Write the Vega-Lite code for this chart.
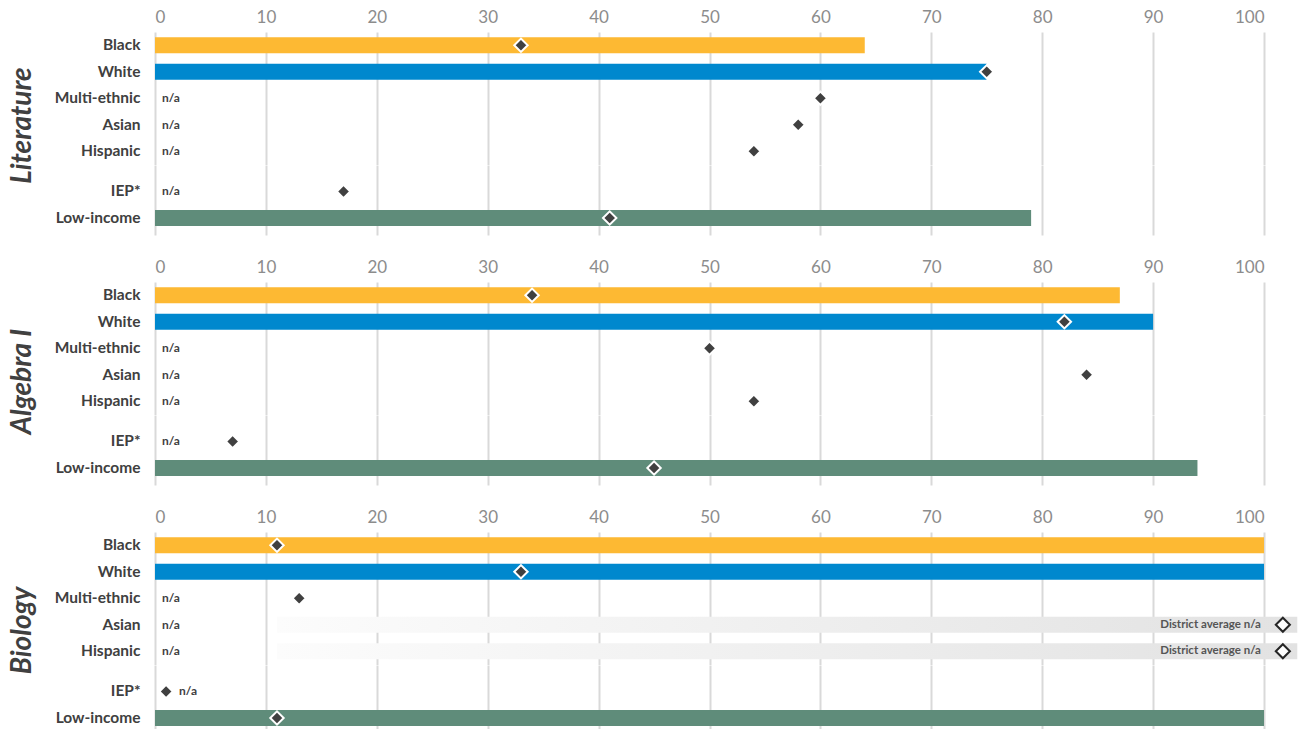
{
  "$schema": "https://vega.github.io/schema/vega-lite/v6.json",
  "background": "#ffffff",
  "padding": {"left": 8, "top": 8, "right": 0, "bottom": 0},
  "datasets": {
    "scores": [
      {"subject": "Literature", "section": "race", "group": "Black", "rate": 64, "district": 33},
      {"subject": "Literature", "section": "race", "group": "White", "rate": 75, "district": 75},
      {"subject": "Literature", "section": "race", "group": "Multi-ethnic", "rate": null, "district": 60},
      {"subject": "Literature", "section": "race", "group": "Asian", "rate": null, "district": 58},
      {"subject": "Literature", "section": "race", "group": "Hispanic", "rate": null, "district": 54},
      {"subject": "Literature", "section": "program", "group": "IEP*", "rate": null, "district": 17},
      {"subject": "Literature", "section": "program", "group": "Low-income", "rate": 79, "district": 41},
      {"subject": "Algebra I", "section": "race", "group": "Black", "rate": 87, "district": 34},
      {"subject": "Algebra I", "section": "race", "group": "White", "rate": 90, "district": 82},
      {"subject": "Algebra I", "section": "race", "group": "Multi-ethnic", "rate": null, "district": 50},
      {"subject": "Algebra I", "section": "race", "group": "Asian", "rate": null, "district": 84},
      {"subject": "Algebra I", "section": "race", "group": "Hispanic", "rate": null, "district": 54},
      {"subject": "Algebra I", "section": "program", "group": "IEP*", "rate": null, "district": 7},
      {"subject": "Algebra I", "section": "program", "group": "Low-income", "rate": 94, "district": 45},
      {"subject": "Biology", "section": "race", "group": "Black", "rate": 100, "district": 11},
      {"subject": "Biology", "section": "race", "group": "White", "rate": 100, "district": 33},
      {"subject": "Biology", "section": "race", "group": "Multi-ethnic", "rate": null, "district": 13},
      {"subject": "Biology", "section": "race", "group": "Asian", "rate": null, "district": null, "district_na": true},
      {"subject": "Biology", "section": "race", "group": "Hispanic", "rate": null, "district": null, "district_na": true},
      {"subject": "Biology", "section": "program", "group": "IEP*", "rate": null, "district": 1},
      {"subject": "Biology", "section": "program", "group": "Low-income", "rate": 100, "district": 11}
    ]
  },
  "config": {
    "font": "Lato",
    "view": {"stroke": null},
    "axis": {"domain": false, "ticks": false, "gridColor": "#d9d9d9", "gridWidth": 2},
    "axisX": {"grid": true, "labelColor": "#8c8c8c", "labelFontSize": 17, "labelPadding": 6, "labelFontWeight": "normal"},
    "axisY": {"grid": false, "labelColor": "#404040", "labelFontSize": 15.5, "labelFontWeight": "bold", "labelPadding": 15, "titleColor": "#404040", "titleFontSize": 28, "titleFontStyle": "italic", "titleFontWeight": "bold", "titlePadding": 18}
  },
  "spacing": 23,
  "vconcat": [
    {
      "spacing": 0,
      "bounds": "flush",
      "vconcat": [
        {
          "width": 1109, "height": 132.5,
          "data": {"name": "scores"},
          "transform": [{"filter": "datum.subject === 'Literature' && datum.section === 'race'"}],
          "encoding": {"y": {"field": "group", "type": "nominal", "sort": ["Black", "White", "Multi-ethnic", "Asian", "Hispanic"], "scale": {"paddingInner": 0.4, "paddingOuter": 0.2}, "axis": {"title": "Literature", "titleY": 93}}},
          "layer": [
            {"mark": {"type": "bar"}, "encoding": {"x": {"field": "rate", "type": "quantitative", "scale": {"domain": [0, 100], "nice": false}, "axis": {"orient": "top", "title": null, "values": [0, 10, 20, 30, 40, 50, 60, 70, 80, 90, 100]}}, "color": {"field": "group", "type": "nominal", "scale": {"domain": ["Black", "White", "Low-income"], "range": ["#FDB933", "#0088CE", "#5F8C7A"]}, "legend": null}}},
            {"transform": [{"filter": "datum.district_na === true"}], "mark": {"type": "bar", "color": {"gradient": "linear", "x1": 0, "x2": 1, "y1": 0, "y2": 0, "stops": [{"offset": 0, "color": "#fcfcfc"}, {"offset": 1, "color": "#e2e2e2"}]}}, "encoding": {"x": {"datum": 11, "type": "quantitative"}, "x2": {"datum": 103}}},
            {"transform": [{"filter": "datum.rate == null && (datum.district == null || datum.district > 5)"}], "mark": {"type": "text", "text": "n/a", "align": "left", "dx": 7, "fontSize": 12, "fontWeight": "bold", "color": "#404040"}, "encoding": {"x": {"datum": 0, "type": "quantitative"}}},
            {"transform": [{"filter": "datum.rate == null && datum.district != null && datum.district <= 5"}], "mark": {"type": "text", "text": "n/a", "align": "left", "dx": 13, "fontSize": 12, "fontWeight": "bold", "color": "#404040"}, "encoding": {"x": {"field": "district", "type": "quantitative"}}},
            {"mark": {"type": "point", "shape": "diamond", "filled": true, "fill": "#404040", "stroke": "#ffffff", "strokeWidth": 2, "size": 180, "opacity": 1}, "encoding": {"x": {"field": "district", "type": "quantitative"}}},
            {"transform": [{"filter": "datum.district_na === true"}], "mark": {"type": "point", "shape": "diamond", "filled": true, "fill": "#ffffff", "stroke": "#262626", "strokeWidth": 2, "size": 200, "opacity": 1}, "encoding": {"x": {"datum": 101.7, "type": "quantitative"}}},
            {"transform": [{"filter": "datum.district_na === true"}], "mark": {"type": "text", "text": "District average n/a", "align": "right", "dx": -22, "fontSize": 11.5, "fontWeight": "bold", "color": "#555555"}, "encoding": {"x": {"datum": 101.7, "type": "quantitative"}}}
          ]
        },
        {
          "width": 1109, "height": 70,
          "data": {"name": "scores"},
          "transform": [{"filter": "datum.subject === 'Literature' && datum.section === 'program'"}],
          "encoding": {"y": {"field": "group", "type": "nominal", "sort": ["IEP*", "Low-income"], "scale": {"paddingInner": 0.4, "paddingOuter": 0.52, "align": 0.672}, "axis": {"title": null}}},
          "layer": [
            {"mark": {"type": "bar"}, "encoding": {"x": {"field": "rate", "type": "quantitative", "scale": {"domain": [0, 100], "nice": false}, "axis": {"orient": "top", "title": null, "labels": false, "labelPadding": 0, "minExtent": 0, "maxExtent": 0, "offset": 0, "values": [0, 10, 20, 30, 40, 50, 60, 70, 80, 90, 100]}}, "color": {"field": "group", "type": "nominal", "scale": {"domain": ["Black", "White", "Low-income"], "range": ["#FDB933", "#0088CE", "#5F8C7A"]}, "legend": null}}},
            {"transform": [{"filter": "datum.rate == null && (datum.district == null || datum.district > 5)"}], "mark": {"type": "text", "text": "n/a", "align": "left", "dx": 7, "fontSize": 12, "fontWeight": "bold", "color": "#404040"}, "encoding": {"x": {"datum": 0, "type": "quantitative"}}},
            {"transform": [{"filter": "datum.rate == null && datum.district != null && datum.district <= 5"}], "mark": {"type": "text", "text": "n/a", "align": "left", "dx": 13, "fontSize": 12, "fontWeight": "bold", "color": "#404040"}, "encoding": {"x": {"field": "district", "type": "quantitative"}}},
            {"mark": {"type": "point", "shape": "diamond", "filled": true, "fill": "#404040", "stroke": "#ffffff", "strokeWidth": 2, "size": 180, "opacity": 1}, "encoding": {"x": {"field": "district", "type": "quantitative"}}}
          ]
        }
      ]
    },
    {
      "spacing": 0,
      "bounds": "flush",
      "vconcat": [
        {
          "width": 1109, "height": 132.5,
          "data": {"name": "scores"},
          "transform": [{"filter": "datum.subject === 'Algebra I' && datum.section === 'race'"}],
          "encoding": {"y": {"field": "group", "type": "nominal", "sort": ["Black", "White", "Multi-ethnic", "Asian", "Hispanic"], "scale": {"paddingInner": 0.4, "paddingOuter": 0.2}, "axis": {"title": "Algebra I", "titleY": 99}}},
          "layer": [
            {"mark": {"type": "bar"}, "encoding": {"x": {"field": "rate", "type": "quantitative", "scale": {"domain": [0, 100], "nice": false}, "axis": {"orient": "top", "title": null, "values": [0, 10, 20, 30, 40, 50, 60, 70, 80, 90, 100]}}, "color": {"field": "group", "type": "nominal", "scale": {"domain": ["Black", "White", "Low-income"], "range": ["#FDB933", "#0088CE", "#5F8C7A"]}, "legend": null}}},
            {"transform": [{"filter": "datum.district_na === true"}], "mark": {"type": "bar", "color": {"gradient": "linear", "x1": 0, "x2": 1, "y1": 0, "y2": 0, "stops": [{"offset": 0, "color": "#fcfcfc"}, {"offset": 1, "color": "#e2e2e2"}]}}, "encoding": {"x": {"datum": 11, "type": "quantitative"}, "x2": {"datum": 103}}},
            {"transform": [{"filter": "datum.rate == null && (datum.district == null || datum.district > 5)"}], "mark": {"type": "text", "text": "n/a", "align": "left", "dx": 7, "fontSize": 12, "fontWeight": "bold", "color": "#404040"}, "encoding": {"x": {"datum": 0, "type": "quantitative"}}},
            {"transform": [{"filter": "datum.rate == null && datum.district != null && datum.district <= 5"}], "mark": {"type": "text", "text": "n/a", "align": "left", "dx": 13, "fontSize": 12, "fontWeight": "bold", "color": "#404040"}, "encoding": {"x": {"field": "district", "type": "quantitative"}}},
            {"mark": {"type": "point", "shape": "diamond", "filled": true, "fill": "#404040", "stroke": "#ffffff", "strokeWidth": 2, "size": 180, "opacity": 1}, "encoding": {"x": {"field": "district", "type": "quantitative"}}},
            {"transform": [{"filter": "datum.district_na === true"}], "mark": {"type": "point", "shape": "diamond", "filled": true, "fill": "#ffffff", "stroke": "#262626", "strokeWidth": 2, "size": 200, "opacity": 1}, "encoding": {"x": {"datum": 101.7, "type": "quantitative"}}},
            {"transform": [{"filter": "datum.district_na === true"}], "mark": {"type": "text", "text": "District average n/a", "align": "right", "dx": -22, "fontSize": 11.5, "fontWeight": "bold", "color": "#555555"}, "encoding": {"x": {"datum": 101.7, "type": "quantitative"}}}
          ]
        },
        {
          "width": 1109, "height": 70,
          "data": {"name": "scores"},
          "transform": [{"filter": "datum.subject === 'Algebra I' && datum.section === 'program'"}],
          "encoding": {"y": {"field": "group", "type": "nominal", "sort": ["IEP*", "Low-income"], "scale": {"paddingInner": 0.4, "paddingOuter": 0.52, "align": 0.672}, "axis": {"title": null}}},
          "layer": [
            {"mark": {"type": "bar"}, "encoding": {"x": {"field": "rate", "type": "quantitative", "scale": {"domain": [0, 100], "nice": false}, "axis": {"orient": "top", "title": null, "labels": false, "labelPadding": 0, "minExtent": 0, "maxExtent": 0, "offset": 0, "values": [0, 10, 20, 30, 40, 50, 60, 70, 80, 90, 100]}}, "color": {"field": "group", "type": "nominal", "scale": {"domain": ["Black", "White", "Low-income"], "range": ["#FDB933", "#0088CE", "#5F8C7A"]}, "legend": null}}},
            {"transform": [{"filter": "datum.rate == null && (datum.district == null || datum.district > 5)"}], "mark": {"type": "text", "text": "n/a", "align": "left", "dx": 7, "fontSize": 12, "fontWeight": "bold", "color": "#404040"}, "encoding": {"x": {"datum": 0, "type": "quantitative"}}},
            {"transform": [{"filter": "datum.rate == null && datum.district != null && datum.district <= 5"}], "mark": {"type": "text", "text": "n/a", "align": "left", "dx": 13, "fontSize": 12, "fontWeight": "bold", "color": "#404040"}, "encoding": {"x": {"field": "district", "type": "quantitative"}}},
            {"mark": {"type": "point", "shape": "diamond", "filled": true, "fill": "#404040", "stroke": "#ffffff", "strokeWidth": 2, "size": 180, "opacity": 1}, "encoding": {"x": {"field": "district", "type": "quantitative"}}}
          ]
        }
      ]
    },
    {
      "spacing": 0,
      "bounds": "flush",
      "vconcat": [
        {
          "width": 1109, "height": 132.5,
          "data": {"name": "scores"},
          "transform": [{"filter": "datum.subject === 'Biology' && datum.section === 'race'"}],
          "encoding": {"y": {"field": "group", "type": "nominal", "sort": ["Black", "White", "Multi-ethnic", "Asian", "Hispanic"], "scale": {"paddingInner": 0.4, "paddingOuter": 0.2}, "axis": {"title": "Biology", "titleY": 98}}},
          "layer": [
            {"mark": {"type": "bar"}, "encoding": {"x": {"field": "rate", "type": "quantitative", "scale": {"domain": [0, 100], "nice": false}, "axis": {"orient": "top", "title": null, "values": [0, 10, 20, 30, 40, 50, 60, 70, 80, 90, 100]}}, "color": {"field": "group", "type": "nominal", "scale": {"domain": ["Black", "White", "Low-income"], "range": ["#FDB933", "#0088CE", "#5F8C7A"]}, "legend": null}}},
            {"transform": [{"filter": "datum.district_na === true"}], "mark": {"type": "bar", "color": {"gradient": "linear", "x1": 0, "x2": 1, "y1": 0, "y2": 0, "stops": [{"offset": 0, "color": "#fcfcfc"}, {"offset": 1, "color": "#e2e2e2"}]}}, "encoding": {"x": {"datum": 11, "type": "quantitative"}, "x2": {"datum": 103}}},
            {"transform": [{"filter": "datum.rate == null && (datum.district == null || datum.district > 5)"}], "mark": {"type": "text", "text": "n/a", "align": "left", "dx": 7, "fontSize": 12, "fontWeight": "bold", "color": "#404040"}, "encoding": {"x": {"datum": 0, "type": "quantitative"}}},
            {"transform": [{"filter": "datum.rate == null && datum.district != null && datum.district <= 5"}], "mark": {"type": "text", "text": "n/a", "align": "left", "dx": 13, "fontSize": 12, "fontWeight": "bold", "color": "#404040"}, "encoding": {"x": {"field": "district", "type": "quantitative"}}},
            {"mark": {"type": "point", "shape": "diamond", "filled": true, "fill": "#404040", "stroke": "#ffffff", "strokeWidth": 2, "size": 180, "opacity": 1}, "encoding": {"x": {"field": "district", "type": "quantitative"}}},
            {"transform": [{"filter": "datum.district_na === true"}], "mark": {"type": "point", "shape": "diamond", "filled": true, "fill": "#ffffff", "stroke": "#262626", "strokeWidth": 2, "size": 200, "opacity": 1}, "encoding": {"x": {"datum": 101.7, "type": "quantitative"}}},
            {"transform": [{"filter": "datum.district_na === true"}], "mark": {"type": "text", "text": "District average n/a", "align": "right", "dx": -22, "fontSize": 11.5, "fontWeight": "bold", "color": "#555555"}, "encoding": {"x": {"datum": 101.7, "type": "quantitative"}}}
          ]
        },
        {
          "width": 1109, "height": 70,
          "data": {"name": "scores"},
          "transform": [{"filter": "datum.subject === 'Biology' && datum.section === 'program'"}],
          "encoding": {"y": {"field": "group", "type": "nominal", "sort": ["IEP*", "Low-income"], "scale": {"paddingInner": 0.4, "paddingOuter": 0.52, "align": 0.672}, "axis": {"title": null}}},
          "layer": [
            {"mark": {"type": "bar"}, "encoding": {"x": {"field": "rate", "type": "quantitative", "scale": {"domain": [0, 100], "nice": false}, "axis": {"orient": "top", "title": null, "labels": false, "labelPadding": 0, "minExtent": 0, "maxExtent": 0, "offset": 0, "values": [0, 10, 20, 30, 40, 50, 60, 70, 80, 90, 100]}}, "color": {"field": "group", "type": "nominal", "scale": {"domain": ["Black", "White", "Low-income"], "range": ["#FDB933", "#0088CE", "#5F8C7A"]}, "legend": null}}},
            {"transform": [{"filter": "datum.rate == null && (datum.district == null || datum.district > 5)"}], "mark": {"type": "text", "text": "n/a", "align": "left", "dx": 7, "fontSize": 12, "fontWeight": "bold", "color": "#404040"}, "encoding": {"x": {"datum": 0, "type": "quantitative"}}},
            {"transform": [{"filter": "datum.rate == null && datum.district != null && datum.district <= 5"}], "mark": {"type": "text", "text": "n/a", "align": "left", "dx": 13, "fontSize": 12, "fontWeight": "bold", "color": "#404040"}, "encoding": {"x": {"field": "district", "type": "quantitative"}}},
            {"mark": {"type": "point", "shape": "diamond", "filled": true, "fill": "#404040", "stroke": "#ffffff", "strokeWidth": 2, "size": 180, "opacity": 1}, "encoding": {"x": {"field": "district", "type": "quantitative"}}}
          ]
        }
      ]
    }
  ]
}
